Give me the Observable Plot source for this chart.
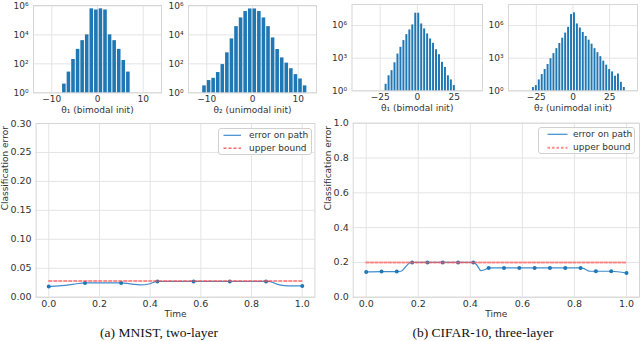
<!DOCTYPE html>
<html><head><meta charset="utf-8">
<script src="https://cdn.jsdelivr.net/npm/d3@7"></script>
<script src="https://cdn.jsdelivr.net/npm/@observablehq/plot@0.6"></script>
<style>
body{margin:0;background:#fff;}
#root{position:relative;width:640px;height:341px;overflow:hidden;background:#fff;font-family:"DejaVu Sans",sans-serif;color:#333;}
.panel{position:absolute;}
.legend{position:absolute;border:1px solid #d0d0d0;border-radius:3px;background:rgba(255,255,255,0.85);font:9px "DejaVu Sans",sans-serif;color:#333;box-sizing:border-box;}
.legend .item{position:absolute;white-space:nowrap;line-height:10px;}
.legend svg{position:absolute;left:0;top:0;overflow:visible;}
.caption{position:absolute;font-family:"Liberation Serif",serif;font-size:13.5px;line-height:14px;color:#111;white-space:nowrap;transform:translateX(-50%);}
</style></head>
<body><div id="root"></div>
<script>
// ---------- data ----------
// MNIST histograms
const mnistTheta1Centers = [-7.25,-6.25,-5.25,-4.25,-3.25,-2.25,-1.25,-0.25,0.75,1.75,2.75,3.75,4.75,5.75,6.75];
const mnistTheta1Counts  = [4,27,200,1000,4000,10000,631000,525000,631000,525000,10000,4000,1000,170,27];
const mnistTheta2Centers = [-10.5,-9.5,-8.5,-7.5,-6.5,-5.5,-4.5,-3.5,-2.5,-1.5,-0.5,0.5,1.5,2.5,3.5,4.5,5.5,6.5,7.5,8.5,9.5,10.5,11.5];
const mnistTheta2Counts  = [3,7,10,25,89,575,5250,37200,148000,407000,617000,617000,407000,148000,37200,6170,977,257,112,46,18,9,3];
const mnistBinWidth = 1;
// CIFAR histograms
const cifarTheta1Centers = [-21,-19,-17,-15,-13,-11,-9,-7,-5,-3,-1,1,3,5,7,9,11,13,15,17,19,21,23,25];
const cifarTheta1Counts  = [4,24,71,380,2400,10000,41700,148000,398000,1150000,13800000,13800000,1410000,490000,170000,58900,23400,6030,2090,417,141,24,10,3];
const cifarTheta2Centers = [-27,-25,-23,-21,-19,-17,-15,-13,-11,-9,-7,-5,-3,-1,1,3,5,7,9,11,13,15,17,19,21,23,25,27,29,31,33,35];
const cifarTheta2Counts  = [2,3,10,31,91,263,891,2630,7590,22400,69200,204000,692000,10500000,14800000,1410000,603000,234000,100000,45700,19500,7590,3240,1380,537,229,91,55,22,35,6,2];
const cifarBinWidth = 2;

const mnistXTicks = [-10,0,10];
const mnistXTickLabels = ["\u221210","0","10"];
const mnistYTicks = [1,1e2,1e4,1e6];
const mnistYTickLabels = ["10\u2070","10\u00b2","10\u2074","10\u2076"];
const cifarXTicks = [-25,0,25];
const cifarXTickLabels = ["\u221225","0","25"];
const cifarYTicks = [1,1e3,1e6];
const cifarYTickLabels = ["10\u2070","10\u00b3","10\u2076"];
const theta1Label = "\u03b8\u2081 (bimodal init)";
const theta2Label = "\u03b8\u2082 (unimodal init)";

// MNIST path (curve) and nodes
const mnistPathTime = [0,0.04,0.08,0.11,0.1429,0.2,0.25,0.2857,0.31,0.335,0.36,0.395,0.4286,0.5,0.5714,0.643,0.7143,0.786,0.8571,0.875,0.9,0.93,0.965,1];
const mnistPathErr  = [0.0184,0.0195,0.0212,0.0232,0.0247,0.0247,0.0247,0.0247,0.0238,0.0222,0.0213,0.0228,0.0273,0.0273,0.0273,0.0273,0.0273,0.0273,0.0273,0.0270,0.0225,0.0201,0.0196,0.0195];
const mnistNodeTime = [0,0.1429,0.2857,0.4286,0.5714,0.7143,0.8571,1];
const mnistNodeErr  = [0.0184,0.0247,0.0247,0.0273,0.0273,0.0273,0.0273,0.0195];
const mnistBound = 0.028;
const mnistYTicks2 = [0,0.05,0.10,0.15,0.20,0.25,0.30];

// CIFAR path (curve) and nodes
const cifarPathTime = [0,0.0588,0.1176,0.133,0.15,0.168,0.1765,0.2353,0.2941,0.3529,0.4118,0.425,0.441,0.455,0.4706,0.5294,0.5882,0.6471,0.7059,0.7647,0.8235,0.834,0.847,0.86,0.8824,0.9412,1];
const cifarPathErr  = [0.145,0.147,0.147,0.149,0.172,0.198,0.2,0.2,0.2,0.2,0.2,0.185,0.152,0.158,0.168,0.168,0.168,0.168,0.168,0.168,0.168,0.166,0.156,0.149,0.149,0.149,0.139];
const cifarNodeTime = [0,0.0588,0.1176,0.1765,0.2353,0.2941,0.3529,0.4118,0.4706,0.5294,0.5882,0.6471,0.7059,0.7647,0.8235,0.8824,0.9412,1];
const cifarNodeErr  = [0.145,0.147,0.147,0.2,0.2,0.2,0.2,0.2,0.168,0.168,0.168,0.168,0.168,0.168,0.168,0.149,0.149,0.139];
const cifarBound = 0.2;
const cifarYTicks2 = [0,0.2,0.4,0.6,0.8,1.0];
const timeTicks = [0,0.2,0.4,0.6,0.8,1.0];

const legendLabels = ["error on path","upper bound"];
const captions = ["(a) MNIST, two-layer","(b) CIFAR-10, three-layer"];

// ---------- drawing ----------
const root = document.getElementById("root");
const BLUE = "#1f77b4", LINEBLUE = "#3f8ccc", GRID = "#e4e4e4", FRAME = "#d6d6d6", TEXT = "#333";

function place(node, left, top) {
  const d = document.createElement("div");
  d.className = "panel";
  d.style.left = left + "px"; d.style.top = top + "px";
  d.appendChild(node);
  root.appendChild(d);
}
const fmt = (ticks, labels) => d => labels[ticks.indexOf(d)];

function histogram(o) {
  const rows = o.centers.map((c, i) => ({x1: c - o.binWidth / 2, x2: c + o.binWidth / 2, y1: 1, y2: o.counts[i]}));
  const chart = Plot.plot({
    width: o.width, height: o.height,
    marginLeft: o.mL, marginRight: o.mR, marginTop: o.mT, marginBottom: o.mB,
    style: {background: "transparent", fontFamily: "DejaVu Sans", fontSize: "9px", color: TEXT, overflow: "visible"},
    x: {domain: o.xDomain},
    y: {type: "log", domain: o.yDomain},
    marks: [
      Plot.gridX(o.xTicks, {stroke: GRID, strokeOpacity: 1}),
      Plot.gridY(o.yTicks, {stroke: GRID, strokeOpacity: 1}),
      Plot.frame({stroke: FRAME}),
      Plot.rect(rows, {x1: "x1", x2: "x2", y1: "y1", y2: "y2", fill: BLUE, insetLeft: 0.5, insetRight: 0.5}),
      Plot.axisX(o.xTicks, {tickSize: 0, tickPadding: 3, tickFormat: fmt(o.xTicks, o.xTickLabels), label: null}),
      Plot.axisY(o.yTicks, {tickSize: 0, tickPadding: 5, tickFormat: fmt(o.yTicks, o.yTickLabels), label: null}),
      Plot.text([o.label], {frameAnchor: "bottom", dy: o.labelDy, lineAnchor: "middle", fontSize: 9})
    ]
  });
  place(chart, o.left, o.top);
}

function pathChart(o) {
  const path = o.time.map((t, i) => ({t, e: o.err[i]}));
  const nodes = o.nodeTime.map((t, i) => ({t, e: o.nodeErr[i]}));
  const bound = [{t: o.time[0], e: o.bound}, {t: o.time[o.time.length - 1], e: o.bound}];
  const chart = Plot.plot({
    width: o.width, height: o.height,
    marginLeft: o.mL, marginRight: o.mR, marginTop: o.mT, marginBottom: o.mB,
    style: {background: "transparent", fontFamily: "DejaVu Sans", fontSize: "9.5px", color: TEXT, overflow: "visible"},
    x: {domain: [-0.05, 1.05]},
    y: {domain: o.yDomain},
    marks: [
      Plot.gridX(timeTicks, {stroke: GRID, strokeOpacity: 1}),
      Plot.gridY(o.yTicks, {stroke: GRID, strokeOpacity: 1}),
      Plot.frame({stroke: FRAME}),
      Plot.line(path, {x: "t", y: "e", curve: "monotone-x", stroke: LINEBLUE, strokeWidth: 1.2}),
      Plot.dot(nodes, {x: "t", y: "e", r: 2, fill: BLUE, stroke: "none"}),
      Plot.line(bound, {x: "t", y: "e", stroke: o.boundColor, strokeOpacity: o.boundOpacity, strokeWidth: o.boundWidth, strokeDasharray: o.dash}),
      Plot.axisX(timeTicks, {tickSize: 0, tickPadding: 3.5, tickFormat: d3.format(".1f"), label: null}),
      Plot.axisY(o.yTicks, {tickSize: 0, tickPadding: 4.5, tickFormat: d3.format(o.yFormat), label: null}),
      Plot.text(["Time"], {frameAnchor: "bottom", dy: 16.6, lineAnchor: "middle", fontSize: 9}),
      Plot.text(["Classification error"], {frameAnchor: "left", dx: o.yLabelDx, rotate: -90, lineAnchor: "middle", fontSize: 9})
    ]
  });
  place(chart, o.left, o.top);
}

function legend(o) {
  const d = document.createElement("div");
  d.className = "legend";
  Object.assign(d.style, {left: o.left + "px", top: o.top + "px", width: o.w + "px", height: o.h + "px"});
  const ys = [o.y1, o.y2];
  let svg = `<svg width="${o.w}" height="${o.h}">`;
  svg += `<line x1="${o.sx1}" x2="${o.sx2}" y1="${ys[0]}" y2="${ys[0]}" stroke="${LINEBLUE}" stroke-width="1.2"/>`;
  svg += `<line x1="${o.sx1}" x2="${o.sx2}" y1="${ys[1]}" y2="${ys[1]}" stroke="${o.boundColor}" stroke-opacity="${o.boundOpacity}" stroke-width="${o.boundWidth}" stroke-dasharray="${o.dash}"/>`;
  svg += `</svg>`;
  d.innerHTML = svg;
  legendLabels.forEach((lab, i) => {
    const s = document.createElement("div");
    s.className = "item";
    s.textContent = lab;
    s.style.left = o.tx + "px";
    s.style.top = (ys[i] - 5.5) + "px";
    d.appendChild(s);
  });
  root.appendChild(d);
}

function caption(text, cx, top) {
  const c = document.createElement("div");
  c.className = "caption";
  c.textContent = text;
  c.style.left = cx + "px"; c.style.top = top + "px";
  root.appendChild(c);
}

// top histograms
histogram({centers: mnistTheta1Centers, counts: mnistTheta1Counts, binWidth: mnistBinWidth,
  xDomain: [-14, 14], yDomain: [1, 1.07e6], xTicks: mnistXTicks, xTickLabels: mnistXTickLabels,
  yTicks: mnistYTicks, yTickLabels: mnistYTickLabels, label: theta1Label,
  left: 0, top: 0, width: 165, height: 118, mL: 33, mR: 4, mT: 5, mB: 25.7, labelDy: 17.7});
histogram({centers: mnistTheta2Centers, counts: mnistTheta2Counts, binWidth: mnistBinWidth,
  xDomain: [-14, 14], yDomain: [1, 1.07e6], xTicks: mnistXTicks, xTickLabels: mnistXTickLabels,
  yTicks: mnistYTicks, yTickLabels: mnistYTickLabels, label: theta2Label,
  left: 160, top: 0, width: 160, height: 118, mL: 28, mR: 4, mT: 5, mB: 25.7, labelDy: 17.7});
histogram({centers: cifarTheta1Centers, counts: cifarTheta1Counts, binWidth: cifarBinWidth,
  xDomain: [-44, 44], yDomain: [1, 8.7e7], xTicks: cifarXTicks, xTickLabels: cifarXTickLabels,
  yTicks: cifarYTicks, yTickLabels: cifarYTickLabels, label: theta1Label,
  left: 320, top: 0, width: 165, height: 118, mL: 31.5, mR: 3, mT: 4, mB: 27.7, labelDy: 17});
histogram({centers: cifarTheta2Centers, counts: cifarTheta2Counts, binWidth: cifarBinWidth,
  xDomain: [-44, 44], yDomain: [1, 8.7e7], xTicks: cifarXTicks, xTickLabels: cifarXTickLabels,
  yTicks: cifarYTicks, yTickLabels: cifarYTickLabels, label: theta2Label,
  left: 480, top: 0, width: 160, height: 118, mL: 28, mR: 3, mT: 4, mB: 27.7, labelDy: 17});

// bottom line charts
pathChart({time: mnistPathTime, err: mnistPathErr, nodeTime: mnistNodeTime, nodeErr: mnistNodeErr, bound: mnistBound,
  yDomain: [0, 0.3], yTicks: mnistYTicks2, yFormat: ".2f", boundColor: "#ff4d4d", boundOpacity: 0.85, boundWidth: 1.4, dash: "3,2",
  left: 0, top: 112, width: 320, height: 210, mL: 35.6, mR: 5.6, mT: 11, mB: 25.3, yLabelDx: -31.3});
pathChart({time: cifarPathTime, err: cifarPathErr, nodeTime: cifarNodeTime, nodeErr: cifarNodeErr, bound: cifarBound,
  yDomain: [0, 1], yTicks: cifarYTicks2, yFormat: ".1f", boundColor: "#ff5a5a", boundOpacity: 0.7, boundWidth: 2, dash: "2.5,2",
  left: 320, top: 112, width: 320, height: 210, mL: 32.7, mR: 1, mT: 10.7, mB: 25.3, yLabelDx: -24.7});

legend({left: 218, top: 128, w: 94, h: 27, y1: 6.3, y2: 19.3, sx1: 4.5, sx2: 22, tx: 30, boundColor: "#ff4d4d", boundOpacity: 0.85, boundWidth: 1.4, dash: "3,2"});
legend({left: 538, top: 127, w: 97, h: 27, y1: 6.3, y2: 19.7, sx1: 8.5, sx2: 28.5, tx: 34, boundColor: "#ff5a5a", boundOpacity: 0.7, boundWidth: 2, dash: "2.5,2"});

caption(captions[0], 159, 326);
caption(captions[1], 483, 326);
</script></body></html>
